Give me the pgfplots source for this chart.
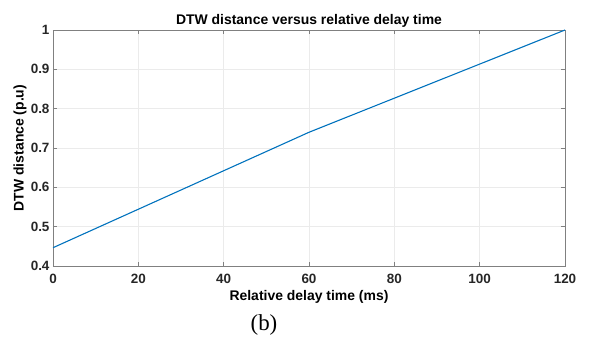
\documentclass[border=0pt]{standalone}
\usepackage{fontspec}
\setmainfont{Liberation Sans}
\newfontfamily\timesfont{Liberation Serif}
\usepackage{pgfplots}
\pgfplotsset{compat=1.18}
\usetikzlibrary{calc}
\definecolor{mblue}{rgb}{0,0.447,0.741}
\definecolor{tickc}{rgb}{0.15,0.15,0.15}
\definecolor{axc}{rgb}{0.5,0.5,0.5}
\definecolor{gridc}{rgb}{0.92,0.92,0.92}
\begin{document}
\begin{tikzpicture}[x=1bp,y=1bp]
\begin{axis}[
  scale only axis,
  width=512bp, height=236bp,
  xmin=0, xmax=120, ymin=0.4, ymax=1,
  xtick={0,20,40,60,80,100,120},
  ytick={0.4,0.5,0.6,0.7,0.8,0.9,1},
  yticklabels={0.4,0.5,0.6,0.7,0.8,0.9,1},
  xticklabels={0,20,40,60,80,100,120},
  tick align=inside,
  major tick length=4bp,
  tick style={axc, line width=0.6pt},
  axis line style={axc, line width=0.6pt},
  grid=major,
  major grid style={gridc, line width=0.6pt},
  ticklabel style={font=\fontsize{13.5}{15}\selectfont\bfseries, text=tickc},
  xticklabel style={yshift=-5bp},
  title={DTW distance versus relative delay time},
  title style={font=\fontsize{14}{16}\selectfont\bfseries, text=black, at={(axis description cs:0.5,1)}, anchor=center, yshift=3bp},
  xlabel={Relative delay time (ms)},
  ylabel={DTW distance (p.u)},
  label style={font=\fontsize{14}{16}\selectfont\bfseries, text=black},
  xlabel style={at={(axis description cs:0.5,0)}, anchor=center, yshift=-31bp},
  ylabel style={at={($(axis description cs:0,0.5)+(-33bp,0)$)}, anchor=center},
  clip=false,
]
\addplot[mblue, line width=1.1pt] coordinates {(0,0.4465) (60,0.740) (120,1.0)};
\end{axis}
\node[font=\timesfont\fontsize{23}{25}\selectfont] at ($(current axis.south west)+(211bp,-59bp)$) {(b)};
\path ($(current axis.south west)+(-53bp,-72bp)$) rectangle ($(current axis.north east)+(25bp,30bp)$);
\end{tikzpicture}
\end{document}
